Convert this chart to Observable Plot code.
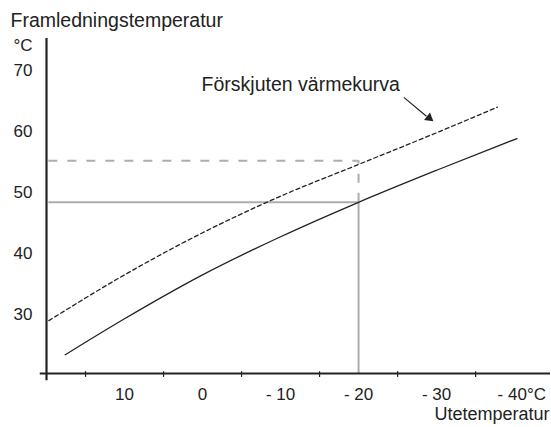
<!DOCTYPE html>
<html>
<head>
<meta charset="utf-8">
<script src="https://cdn.jsdelivr.net/npm/d3@7"></script>
<script src="https://cdn.jsdelivr.net/npm/@observablehq/plot@0.6"></script>
<style>
  html, body { margin: 0; padding: 0; background: #fff; }
  #chart svg { display: block; overflow: visible; }
</style>
</head>
<body>
<div id="chart"></div>
<script>
// Normal heating curve (solid): outdoor temp °C -> supply temp °C
const outdoorSolid = [17.6, 10, 0, -10, -20, -30, -40.3];
const supplySolid  = [23.4, 29.3, 36.5, 42.75, 48.4, 53.65, 58.85];
// Shifted heating curve (dashed)
const outdoorDashed = [19.7, 10, 0, -10, -20, -30, -37.8];
const supplyDashed  = [29.0, 36.5, 43.4, 49.4, 54.6, 59.8, 64.0];

// Reading at -20 °C
const readOutdoor = -20;
const readSolid = 48.4;
const readDashed = 55.2;

// Tick labels
const xLabelValues = [10, 0, -10, -20, -30];
const xTickMarks = [15, 5, -5, -15, -25, -35];
const yLabelValues = [30, 40, 50, 60, 70];

// Texts
const yTitle = "Framledningstemperatur";
const yUnit = "°C";
const xTitle = "Utetemperatur";
const lastXLabel = "- 40°C";
const annotation = "Förskjuten värmekurva";
// annotation anchor & arrow (data units)
const annotX = [-25.3], annotY = [67.6];
const arrowFrom = {x: -25.8, y: 65.6};
const arrowTo = {x: -29.3, y: 61.9};

const xDomain = [20, -44.6];
const yDomain = [20.33, 75.25];

const solid = outdoorSolid.map((x, i) => ({x, y: supplySolid[i]}));
const dashed = outdoorDashed.map((x, i) => ({x, y: supplyDashed[i]}));
const fmt = d => d === 0 ? "0" : d < 0 ? "- " + (-d) : String(d);

const FS = 17;       // tick labels
const FT = 19.5;     // titles / annotation
const ink = "#222";
const grey = "#adadad";

const chart = Plot.plot({
  width: 551,
  height: 427,
  marginLeft: 46,
  marginRight: 1,
  marginTop: 38,
  marginBottom: 54,
  style: {fontFamily: "'Liberation Sans', Arial, sans-serif", fontSize: FS + "px", color: ink, background: "#fff"},
  x: {domain: xDomain},
  y: {domain: yDomain},
  marks: [
    // grey reading lines
    Plot.ruleY([readSolid], {x1: xDomain[0] - 0.3, x2: readOutdoor, stroke: grey, strokeWidth: 2}),
    Plot.ruleX([readOutdoor], {y1: yDomain[0], y2: readSolid, stroke: grey, strokeWidth: 2}),
    Plot.ruleY([readDashed], {x1: xDomain[0] - 0.3, x2: readOutdoor, stroke: grey, strokeWidth: 2, strokeDasharray: "9,10"}),
    Plot.ruleX([readOutdoor], {y1: readSolid, y2: readDashed, stroke: grey, strokeWidth: 2, strokeDasharray: "9,10"}),
    // curves
    Plot.line(solid, {x: "x", y: "y", curve: "monotone-x", stroke: ink, strokeWidth: 1.3}),
    Plot.line(dashed, {x: "x", y: "y", curve: "monotone-x", stroke: ink, strokeWidth: 1.3, strokeDasharray: "4,3"}),
    // axes lines
    Plot.ruleX([xDomain[0]], {y1: yDomain[1], y2: yDomain[0] - 1.2, stroke: ink, strokeWidth: 2.2, clip: false}),
    Plot.ruleY([yDomain[0]], {x1: xDomain[0] + 0.8, x2: xDomain[1], stroke: ink, strokeWidth: 2.2, clip: false}),
    Plot.ruleX(xTickMarks, {x: d => d, y1: yDomain[0] + 0.3, y2: yDomain[0] - 0.65, stroke: ink, strokeWidth: 1.2}),
    // axis labels
    Plot.axisX({ticks: xLabelValues, tickSize: 0, tickPadding: 14, tickFormat: fmt, fontSize: FS, label: null}),
    Plot.text([lastXLabel], {x: -40, frameAnchor: "bottom", textAnchor: "start", lineAnchor: "top", dx: -17, dy: 14, fontSize: FS, fill: ink}),
    Plot.axisY({ticks: yLabelValues, tickSize: 0, tickPadding: 14, fontSize: FS, label: null}),
    Plot.text([yUnit], {frameAnchor: "top-left", textAnchor: "end", lineAnchor: "middle", dx: -14, dy: 7, fontSize: FS, fill: ink}),
    Plot.text([yTitle], {frameAnchor: "top-left", textAnchor: "start", lineAnchor: "middle", dx: -36, dy: -18, fontSize: FT, fill: ink}),
    Plot.text([xTitle], {frameAnchor: "bottom-right", textAnchor: "end", lineAnchor: "middle", dx: -1, dy: 41, fontSize: 18, fill: ink}),
    // annotation
    Plot.text([annotation], {x: () => annotX[0], y: () => annotY[0], textAnchor: "end", lineAnchor: "middle", fontSize: FT, fill: ink}),
    Plot.link([arrowFrom], {x1: "x", y1: "y", x2: () => arrowTo.x + 0.6, y2: () => arrowTo.y + 0.6, stroke: ink, strokeWidth: 1.2}),
    Plot.dot([arrowTo], {x: "x", y: "y", symbol: "triangle2", r: 4.5, fill: ink, stroke: "none", rotate: 129, dx: -2, dy: -2})
  ]
});
document.getElementById("chart").appendChild(chart);
</script>
</body>
</html>
